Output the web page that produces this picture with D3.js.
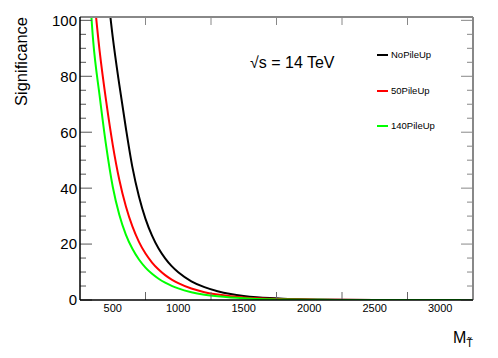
<!DOCTYPE html>
<html><head><meta charset="utf-8">
<script src="https://cdn.jsdelivr.net/npm/d3@7"></script>
<style>body{margin:0;background:#fff}svg{display:block}text{font-family:"Liberation Sans",Arial,sans-serif}</style>
</head><body>
<svg id="c" width="498" height="358"></svg>
<script>
const massNoPU = [450,500,550,600,650,700,750,800,850,900,950,1000,1100,1200,1300,1400,1500,1600,1700,1800,2000,2200,2500,3250];
const sigNoPU  = [115,94,77,61.5,47.5,37,29,23,18.4,14.9,12.1,9.9,6.7,4.6,3.15,2.15,1.47,1.0,0.68,0.46,0.21,0.09,0.03,0];
const mass50PU = [350,400,450,500,550,600,650,700,750,800,850,900,950,1000,1100,1200,1300,1400,1500,1600,1700,1800,2000,2200,2500,3250];
const sig50PU  = [112,89,71,55.5,43,33.5,26.3,20.8,16.6,13.4,10.9,8.9,7.3,6.0,4.1,2.8,1.93,1.33,0.92,0.64,0.44,0.3,0.14,0.065,0.02,0];
const mass140PU = [300,350,400,450,500,550,600,650,700,750,800,850,900,950,1000,1100,1200,1300,1400,1500,1600,1700,1800,2000,2200,2500,3250];
const sig140PU  = [130,93,73,55,40.5,30.5,23.4,18.3,14.5,11.6,9.35,7.6,6.2,5.07,4.15,2.8,1.9,1.3,0.88,0.6,0.4,0.27,0.18,0.08,0.035,0.01,0];
const seriesNames = ["NoPileUp","50PileUp","140PileUp"];
const seriesColors = ["#000000","#ff0000","#00ff00"];
const xTickLabels = [500,1000,1500,2000,2500,3000];
const xTickMarks = [750,1250,1750,2250,2750];
const yTickLabels = [0,20,40,60,80,100];

const svg = d3.select("#c");
const L=80, R=473, T=17, B=300;
const x = d3.scaleLinear().domain([250,3250]).range([L,R]);
const y = d3.scaleLinear().domain([0,101.2]).range([B,T]);

svg.append("defs").append("clipPath").attr("id","clip")
  .append("rect").attr("x",L).attr("y",T).attr("width",R-L).attr("height",B-T);

const series = [
  {name:seriesNames[0], color:seriesColors[0], m:massNoPU, s:sigNoPU},
  {name:seriesNames[1], color:seriesColors[1], m:mass50PU, s:sig50PU},
  {name:seriesNames[2], color:seriesColors[2], m:mass140PU, s:sig140PU}
];
const line = d3.line().x(d=>x(d[0])).y(d=>y(d[1])).curve(d3.curveMonotoneX);
const g = svg.append("g").attr("clip-path","url(#clip)");
series.forEach(sr=>{
  g.append("path").datum(sr.m.map((v,i)=>[v,sr.s[i]]))
    .attr("d",line).attr("fill","none").attr("stroke",sr.color).attr("stroke-width",2);
});

// frame: top and right gray
svg.append("line").attr("x1",L).attr("x2",R).attr("y1",T).attr("y2",T).attr("stroke","#888").attr("stroke-width",2);
svg.append("line").attr("x1",R).attr("x2",R).attr("y1",T).attr("y2",B).attr("stroke","#888").attr("stroke-width",2);

// left axis
const yMinor = d3.range(0,101,5);
yMinor.forEach(v=>{
  const major = v%20===0;
  svg.append("line").attr("x1",L).attr("x2",L+(major?12:6)).attr("y1",y(v)).attr("y2",y(v)).attr("stroke","#555").attr("stroke-width",1);
  svg.append("line").attr("x1",R).attr("x2",R-(major?12:6)).attr("y1",y(v)).attr("y2",y(v)).attr("stroke","#888").attr("stroke-width",1);
});
svg.append("line").attr("x1",L).attr("x2",L).attr("y1",T).attr("y2",B).attr("stroke","#000").attr("stroke-width",1.5);
svg.selectAll(".yl").data(yTickLabels).enter().append("text")
  .attr("x",L-3).attr("y",d=>y(d)).attr("dy","0.36em").attr("text-anchor","end")
  .attr("font-size",15).attr("fill","#000").text(d=>d);

// bottom axis
xTickMarks.forEach(v=>{
  svg.append("line").attr("x1",x(v)).attr("x2",x(v)).attr("y1",B).attr("y2",B-8).attr("stroke","#666").attr("stroke-width",1);
  svg.append("line").attr("x1",x(v)).attr("x2",x(v)).attr("y1",T).attr("y2",T+8).attr("stroke","#888").attr("stroke-width",1);
});
svg.append("line").attr("x1",L).attr("x2",R).attr("y1",B).attr("y2",B).attr("stroke","#000").attr("stroke-width",1.5);
svg.selectAll(".xl").data(xTickLabels).enter().append("text")
  .attr("x",d=>x(d)).attr("y",312).attr("text-anchor","middle")
  .attr("font-size",11).attr("fill","#000").text(d=>d);

// axis titles
svg.append("text").attr("transform","translate(27,17) rotate(-90)").attr("text-anchor","end")
  .attr("font-size",16.5).text("Significance");
const xt = svg.append("text").attr("x",473).attr("y",343).attr("text-anchor","end").attr("font-size",16);
xt.append("tspan").text("M");
xt.append("tspan").attr("font-size",11).attr("dy",4).text("T\u0303");

// energy label
svg.append("text").attr("x",250).attr("y",68).attr("font-size",16).text("\u221As = 14 TeV");

// legend
series.forEach((sr,i)=>{
  const yy = [55,91,126][i];
  svg.append("line").attr("x1",377).attr("x2",388).attr("y1",yy).attr("y2",yy).attr("stroke",sr.color).attr("stroke-width",2);
  svg.append("text").attr("x",391).attr("y",yy).attr("dy","0.35em").attr("font-size",9.5).text(sr.name);
});
</script>
</body></html>
